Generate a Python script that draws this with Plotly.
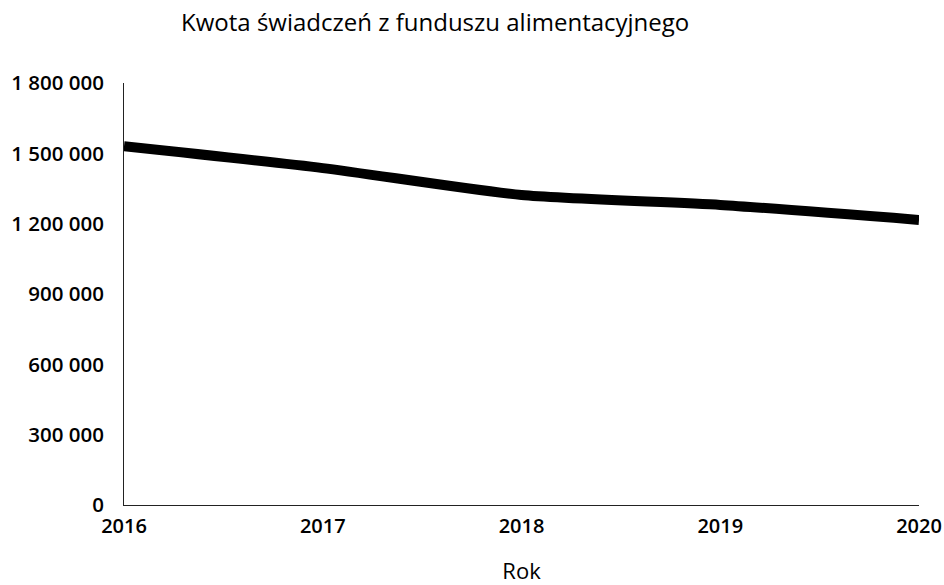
import plotly.graph_objects as go

# Annual amounts of maintenance fund benefits
years = [2016, 2017, 2018, 2019, 2020]
amounts = [1530000, 1437000, 1322000, 1280000, 1216000]
y_ticks = [0, 300000, 600000, 900000, 1200000, 1500000, 1800000]

fig = go.Figure()
fig.add_trace(go.Scatter(
    x=years, y=amounts, mode="lines",
    line=dict(color="black", width=10, shape="spline", smoothing=0.6),
    hoverinfo="x+y",
))

fig.update_layout(
    width=944, height=585,
    margin=dict(l=124, r=25, t=83, b=80, autoexpand=False),
    paper_bgcolor="white", plot_bgcolor="white",
    separators=", ",
    showlegend=False,
    title=dict(
        text="Kwota świadczeń z funduszu alimentacyjnego",
        x=0.461, xanchor="center", y=0.962, yanchor="middle",
        font=dict(family="Open Sans", size=24, color="black"),
    ),
    font=dict(family="Open Sans", color="black"),
)

fig.update_xaxes(
    range=[2016, 2020], tickvals=years, tickformat="d",
    showgrid=False, zeroline=False, automargin=False,
    showline=True, linecolor="#222", linewidth=1,
    ticks="", ticklabelstandoff=3, ticklabeloverflow="allow",
    tickfont=dict(family="Open Sans", size=20, color="black", weight=600),
    title=dict(text="Rok", standoff=25,
               font=dict(family="Open Sans", size=22, color="black")),
)
fig.update_yaxes(
    range=[0, 1800000], tickvals=y_ticks, tickformat=",d",
    showgrid=False, zeroline=False, automargin=False,
    showline=True, linecolor="#222", linewidth=1,
    ticks="", ticklabelstandoff=15, ticklabeloverflow="allow",
    tickfont=dict(family="Open Sans", size=20.5, color="black", weight=600),
)

fig.write_html("out.html")
